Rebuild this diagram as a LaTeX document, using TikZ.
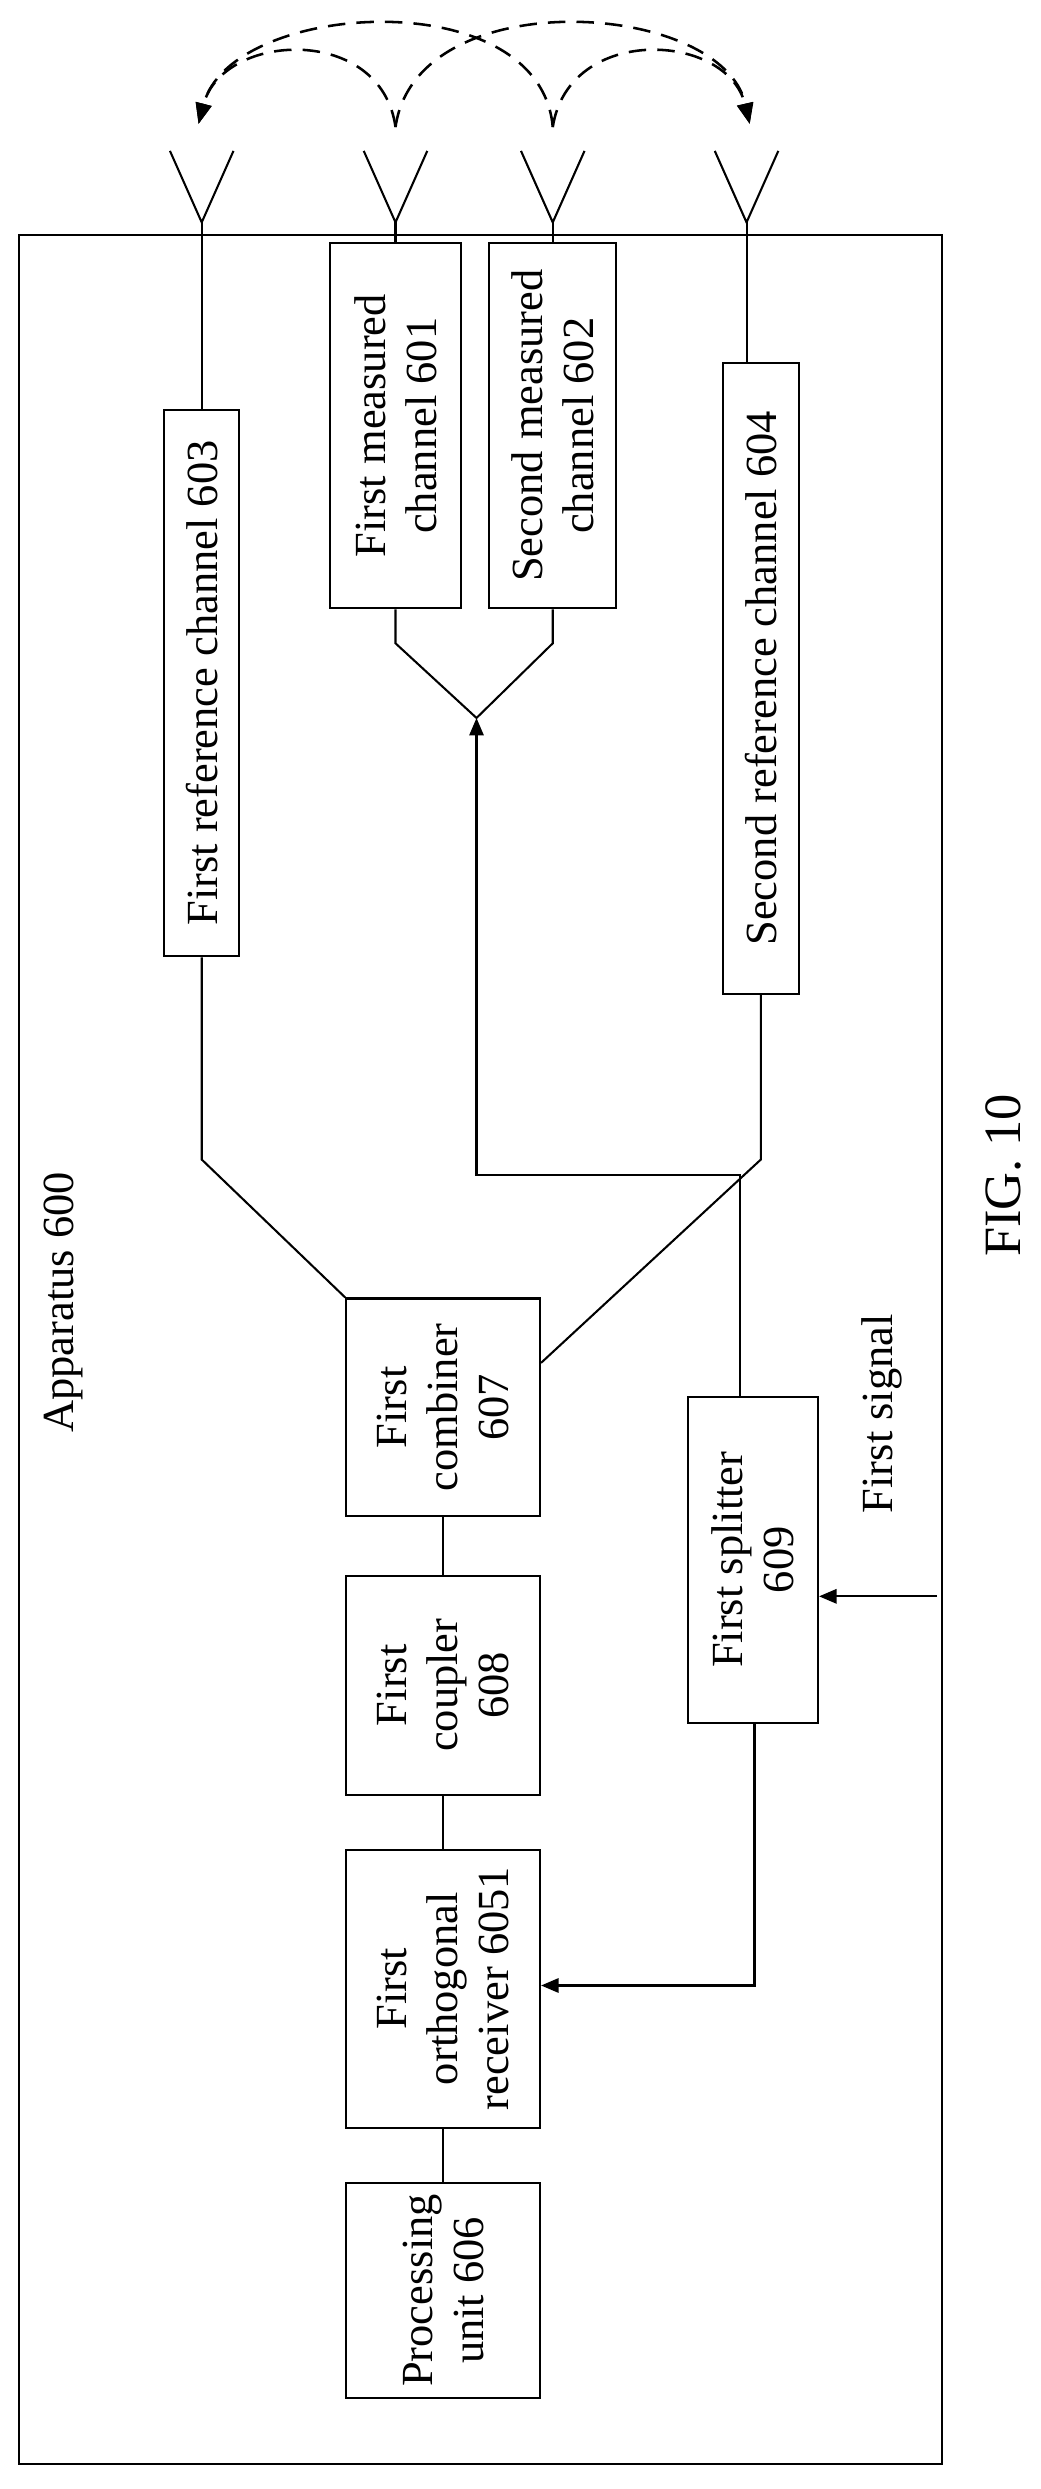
\documentclass[tikz,border=0pt]{standalone}
\usepackage{fontspec}
\setmainfont{Liberation Serif}
\usetikzlibrary{arrows.meta}
\begin{document}
\begin{tikzpicture}[x=1pt,y=-1pt,line width=1.3pt,
 box/.style={draw,minimum width=0pt,inner sep=0pt},
 lbl/.style={rotate=90,align=center,font=\fontsize{28}{32}\selectfont},
 arr/.style={-{Triangle[length=11pt,width=9pt]}},
 darc/.style={line width=1.6pt,dashed,dash pattern=on 11pt off 7pt,-{Triangle[length=13pt,width=10pt]}}]
\useasboundingbox (0,0) rectangle (655,1567);
\draw (12,148) rectangle (593,1551);
% boxes
\node[box,minimum width=47pt,minimum height=344pt] (r603) at (127,430) {};
\node[lbl] at (r603) {First reference channel 603};
\node[box,minimum width=82pt,minimum height=230pt] (m601) at (249,268) {};
\node[lbl] at (m601) {First measured\\channel 601};
\node[box,minimum width=80pt,minimum height=230pt] (m602) at (348,268) {};
\node[lbl] at (m602) {Second measured\\channel 602};
\node[box,minimum width=48pt,minimum height=397pt] (r604) at (479,427) {};
\node[lbl] at (r604) {Second reference channel 604};
\node[box,minimum width=122pt,minimum height=137pt] (c607) at (279,886) {};
\node[lbl] at (c607) {First\\combiner\\607};
\node[box,minimum width=122pt,minimum height=138pt] (c608) at (279,1061) {};
\node[lbl] at (c608) {First\\coupler\\608};
\node[box,minimum width=122pt,minimum height=175pt] (o6051) at (279,1252) {};
\node[lbl] at (o6051) {First\\orthogonal\\receiver 6051};
\node[box,minimum width=122pt,minimum height=135pt] (p606) at (279,1442) {};
\node[lbl] at (p606) {Processing\\unit 606};
\node[box,minimum width=82pt,minimum height=205pt] (s609) at (474,982) {};
\node[lbl] at (s609) {First splitter\\609};
\node[lbl] (sig) at (555,890) {First signal};
\node[lbl] (app) at (40,820) {Apparatus 600};
\node[rotate=90,font=\fontsize{33}{38}\selectfont] (fig) at (632,740) {FIG. 10};
% antennas
\foreach \n/\x in {a1/127,a2/249,a3/348,a4/470}{
 \coordinate (\n) at (\x,140);
 \draw (\x-20,95) -- (\n) -- (\x+20,95);
 \coordinate (\n t) at (\x,80);
}
\draw (a1) -- (r603.north);
\draw (a2) -- (m601.north);
\draw (a3) -- (m602.north);
\draw (a4) -- (470,148) -- (r604.north -| 470,0);
% measured channels merge
\coordinate (apex) at (300,452);
\draw (m601.south) -- (249,405) -- (apex) -- (348,405) -- (m602.south);
% reference to combiner
\draw (r603.south) -- (127,730) -- (c607.north west);
\draw (r604.south) -- (479,730) -- (c607.east |- 0,858);
% chain
\draw (c607) -- (c608) -- (o6051) -- (p606);
% splitter
\draw[arr] (s609.north -| 466,0) -- (466,740) -- (300,740) -- (apex);
\draw[arr] (s609.south -| 475,0) -- (475,1250) -- (o6051.east |- 0,1250);
\draw[arr] (590,1005) -- (s609.east |- 0,1005);
% dashed arcs
\draw[darc] (a2t) .. controls (240,15) and (140,20) .. (125,78);
\draw[darc] (a3t) .. controls (340,-12) and (145,0) .. (125,78);
\draw[darc] (a2t) .. controls (262,-12) and (455,0) .. (472,78);
\draw[darc] (a3t) .. controls (358,15) and (458,20) .. (472,78);
\end{tikzpicture}
\end{document}
